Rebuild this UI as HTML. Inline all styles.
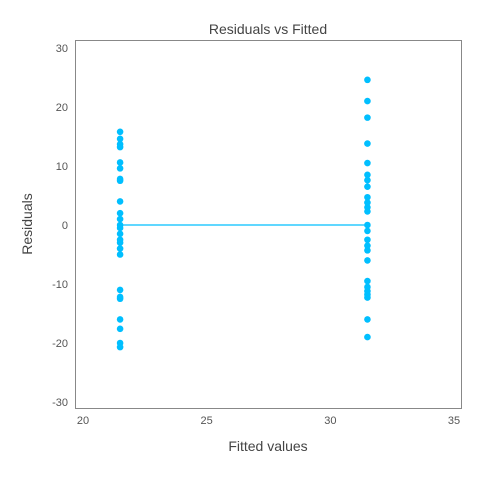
<!DOCTYPE html>
<html><head><meta charset="utf-8"><style>
body{margin:0;background:#fff;font-family:"Liberation Sans","DejaVu Sans",sans-serif}
</style></head><body>
<svg id="c" width="480" height="480" xmlns="http://www.w3.org/2000/svg"></svg>
<script>
const xTicks=[20,25,30,35];
const yTicks=[30,20,10,0,-10,-20,-30];
const fittedLeft=21.5, fittedRight=31.5;
const residLeft=[15.8,14.6,13.7,13.2,10.6,9.6,7.8,7.5,4,2,1,0,-0.5,-1.5,-2.5,-3,-4,-5,-11,-12.2,-12.5,-16,-17.6,-20,-20.7];
const residRight=[24.6,21,18.2,13.8,10.5,8.5,7.6,6.5,4.7,3.8,3,2.3,0,-1,-2.5,-3.5,-4.3,-6,-9.5,-10.5,-11.2,-11.8,-12.3,-16,-19];
const svg=document.getElementById('c');const NS='http://www.w3.org/2000/svg';
const X=v=>83+(v-20)*(454-83)/15;
const Y=v=>225-v*5.9;
function mk(t,a,p){const e=document.createElementNS(NS,t);for(const k in a)e.setAttribute(k,a[k]);(p||svg).appendChild(e);return e;}
let f=mk('rect',{x:75.5,y:40.5,width:386,height:368,fill:'none',stroke:'#888'});


let t=mk('text',{x:268,y:34,'text-anchor':'middle','font-size':14,fill:'#444'});t.textContent='Residuals vs Fitted';


t=mk('text',{x:268,y:451,'text-anchor':'middle','font-size':14,fill:'#444'});t.textContent='Fitted values';


t=mk('text',{x:32,y:224,'text-anchor':'middle','font-size':14,fill:'#444',transform:'rotate(-90 32 224)'});t.textContent='Residuals';


xTicks.forEach(v=>{const e=mk('text',{x:X(v),y:424,'text-anchor':'middle','font-size':11,fill:'#555'});e.textContent=v;

});
yTicks.forEach(v=>{const e=mk('text',{x:68,y:Y(v)+4,'text-anchor':'end','font-size':11,fill:'#555'});e.textContent=v;

});
const ln=mk('line',{x1:X(fittedLeft),x2:X(fittedRight),y1:Y(0),y2:Y(0),stroke:'#00bfff','stroke-width':1.3});


function pts(fx,arr){arr.forEach(r=>{const c=mk('circle',{cx:X(fx),cy:Y(r),r:3.3,fill:'#00bfff'});

});}
pts(fittedLeft,residLeft);pts(fittedRight,residRight);
</script>
</body></html>
